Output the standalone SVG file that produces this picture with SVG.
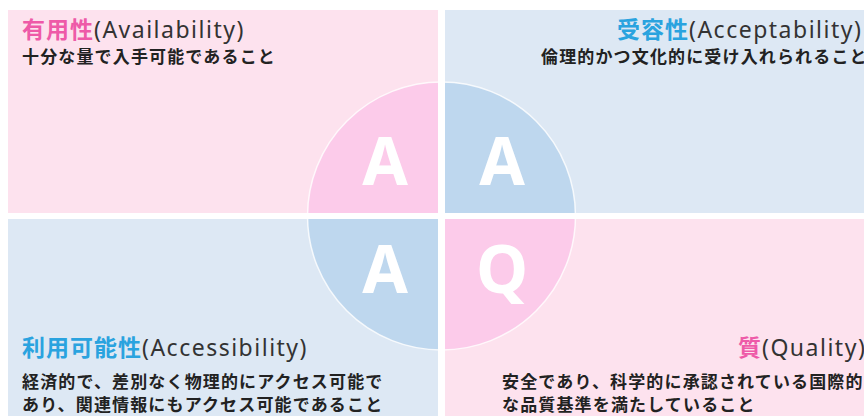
<svg xmlns="http://www.w3.org/2000/svg" width="864" height="416" viewBox="0 0 864 416">
<style>
.pp{fill:#fde2ee}
.pb{fill:#dde8f4}
.cp{fill:#fccbea}
.cb{fill:#bed7ee}
.big{font-family:"Noto Sans","Open Sans",sans-serif;font-weight:700;font-size:66px;fill:#ffffff;text-anchor:middle}
.t{font-family:"Noto Sans","Noto Sans CJK JP",sans-serif;font-size:23px;letter-spacing:1.5px;fill:#333333}
.tj{font-family:"Noto Sans CJK JP",sans-serif;font-weight:700;letter-spacing:1px}
.pk{fill:#ee5aa8}
.bl{fill:#2aa3df}
.s{font-family:"Noto Sans CJK JP",sans-serif;font-weight:700;font-size:17px;letter-spacing:1.15px;fill:#222222}
</style>
<defs>
<clipPath id="circ"><circle cx="441.5" cy="216" r="134"/></clipPath>
</defs>
<rect width="864" height="416" fill="#ffffff"/>
<g id="availability">
<rect class="pp" x="8" y="10" width="430" height="203"/>
<rect class="cp" x="8" y="10" width="430" height="203" clip-path="url(#circ)"/>
<text class="big" x="385" y="185">A</text>
<text class="t" x="22" y="38"><tspan class="tj pk">有用性</tspan>(Availability)</text>
<text class="s" x="22" y="63">十分な量で入手可能であること</text>
</g>
<g id="acceptability">
<rect class="pb" x="445" y="10" width="419" height="203"/>
<rect class="cb" x="445" y="10" width="419" height="203" clip-path="url(#circ)"/>
<text class="big" x="502" y="185">A</text>
<text class="t" x="617" y="38"><tspan class="tj bl">受容性</tspan>(Acceptability)</text>
<text class="s" x="541" y="63">倫理的かつ文化的に受け入れられること</text>
</g>
<g id="accessibility">
<rect class="pb" x="8" y="219" width="430" height="197"/>
<rect class="cb" x="8" y="219" width="430" height="197" clip-path="url(#circ)"/>
<text class="big" x="385" y="293">A</text>
<text class="t" x="22" y="356"><tspan class="tj bl">利用可能性</tspan>(Accessibility)</text>
<text class="s" x="22" y="388">経済的で、差別なく物理的にアクセス可能で</text>
<text class="s" x="22" y="411">あり、関連情報にもアクセス可能であること</text>
</g>
<g id="quality">
<rect class="pp" x="445" y="219" width="419" height="197"/>
<rect class="cp" x="445" y="219" width="419" height="197" clip-path="url(#circ)"/>
<text class="big" x="502" y="293">Q</text>
<text class="t" x="738" y="356"><tspan class="tj pk">質</tspan>(Quality)</text>
<text class="s" x="502" y="388">安全であり、科学的に承認されている国際的</text>
<text class="s" x="502" y="411">な品質基準を満たしていること</text>
</g>
<g id="connectors">
<circle cx="441.5" cy="216" r="134" fill="none" stroke="#ffffff" stroke-width="1.5" opacity="0.8"/>
</g>
</svg>
